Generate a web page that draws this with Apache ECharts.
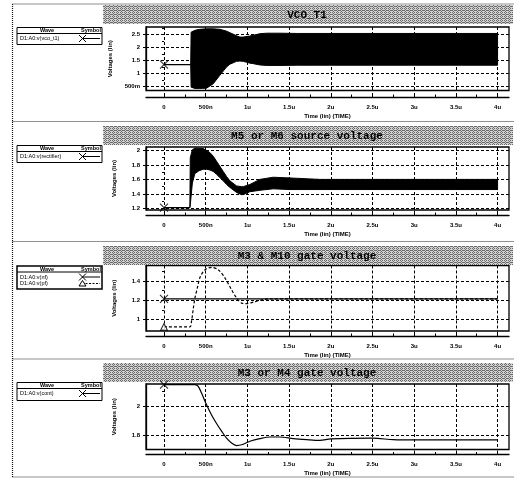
<!DOCTYPE html>
<html><head><meta charset="utf-8">
<script src="https://cdn.jsdelivr.net/npm/echarts@6/dist/echarts.min.js"></script>
<style>html,body{margin:0;padding:0;background:#fff}#c{width:516px;height:479px}</style>
</head><body><div id="c"></div><script>
// ---------- DATA ----------
const titles = ['VCO_T1', 'M5 or M6 source voltage', 'M3 & M10 gate voltage', 'M3 or M4 gate voltage'];
const xTickValues = [0, 0.5, 1, 1.5, 2, 2.5, 3, 3.5, 4];
const xTickLabels = ['0', '500n', '1u', '1.5u', '2u', '2.5u', '3u', '3.5u', '4u'];
const xMinorValues = [0.25, 0.75, 1.25, 1.75, 2.25, 2.75, 3.25, 3.75];

// Panel 1: VCO_T1
const p1YTicks = [0.5, 1, 1.5, 2, 2.5];
const p1YLabels = ['500m', '1', '1.5', '2', '2.5'];
const p1YMinor = [0.75, 1.25, 1.75, 2.25, 2.75];
const vcoFlatT = [0, 0.32];
const vcoFlatV = [1.34, 1.34];
const vcoEnvT     = [0.32, 0.325, 0.37, 0.43, 0.51, 0.59, 0.67, 0.75, 0.79, 0.87, 0.91, 0.95, 1.03, 1.07, 1.15, 1.23, 1.39, 1.6, 1.87, 2.5, 3, 3.5, 4];
const vcoUpper    = [1.34, 2.6, 2.67, 2.71, 2.73, 2.73, 2.71, 2.64, 2.58, 2.46, 2.41, 2.41, 2.45, 2.48, 2.54, 2.56, 2.56, 2.55, 2.55, 2.55, 2.55, 2.55, 2.55];
const vcoLower    = [1.34, 0.47, 0.42, 0.42, 0.43, 0.6, 0.93, 1.25, 1.36, 1.47, 1.48, 1.47, 1.4, 1.38, 1.33, 1.31, 1.31, 1.32, 1.32, 1.32, 1.32, 1.32, 1.32];

// Panel 2: rectifier
const p2YTicks = [1.2, 1.4, 1.6, 1.8, 2];
const p2YLabels = ['1.2', '1.4', '1.6', '1.8', '2'];
const p2YMinor = [1.3, 1.5, 1.7, 1.9];
const recFlatT = [0, 0.31];
const recFlatV = [1.21, 1.21];
const recEnvT   = [0.31, 0.315, 0.34, 0.37, 0.42, 0.47, 0.51, 0.55, 0.59, 0.63, 0.71, 0.75, 0.79, 0.87, 0.93, 0.95, 1.03, 1.15, 1.31, 1.51, 1.87, 2.5, 3, 3.5, 4];
const recUpper  = [1.21, 1.9, 2.01, 2.03, 2.03, 2.025, 2.0, 1.97, 1.92, 1.85, 1.71, 1.64, 1.58, 1.51, 1.5, 1.5, 1.53, 1.6, 1.63, 1.62, 1.6, 1.6, 1.6, 1.6, 1.6];
const recLower  = [1.21, 1.25, 1.55, 1.68, 1.72, 1.74, 1.74, 1.73, 1.71, 1.67, 1.58, 1.53, 1.49, 1.42, 1.39, 1.39, 1.43, 1.45, 1.47, 1.46, 1.46, 1.46, 1.46, 1.46, 1.46];

// Panel 3: v(nf), v(pf)
const p3YTicks = [1, 1.2, 1.4];
const p3YLabels = ['1', '1.2', '1.4'];
const p3YMinor = [0.9, 1.1, 1.3, 1.5];
const nfT = [0, 1, 2, 3, 4];
const nfV = [1.215, 1.215, 1.215, 1.215, 1.215];
const pfT = [0, 0.31, 0.33, 0.35, 0.37, 0.4, 0.43, 0.47, 0.51, 0.57, 0.65, 0.73, 0.81, 0.87, 0.93, 0.99, 1.07, 1.15, 1.27, 1.5, 2, 3, 4];
const pfV = [0.921, 0.921, 0.98, 1.105, 1.22, 1.33, 1.435, 1.5, 1.53, 1.545, 1.52, 1.435, 1.31, 1.225, 1.17, 1.165, 1.18, 1.2, 1.215, 1.215, 1.215, 1.215, 1.215];

// Panel 4: v(cont)
const p4YTicks = [1.8, 2];
const p4YLabels = ['1.8', '2'];
const p4YMinor = [1.7, 1.9, 2.1];
const contT = [0, 0.37, 0.41, 0.45, 0.51, 0.57, 0.63, 0.69, 0.75, 0.81, 0.87, 0.93, 1.03, 1.15, 1.27, 1.39, 1.55, 1.71, 1.87, 2.0, 2.5, 2.75, 3, 3.5, 4];
const contV = [2.145, 2.145, 2.133, 2.087, 2.007, 1.938, 1.88, 1.828, 1.78, 1.747, 1.73, 1.735, 1.759, 1.777, 1.788, 1.788, 1.777, 1.77, 1.765, 1.775, 1.78, 1.77, 1.768, 1.768, 1.768];

const legendNames = [['D1:A0:v(vco_t1)'], ['D1:A0:v(rectifier)'], ['D1:A0:v(nf)', 'D1:A0:v(pf)'], ['D1:A0:v(cont)']];

// ---------- LAYOUT ----------
const X_MIN = -0.216, X_MAX = 4.137;
const GL = 146, GW = 363;
const layout = [
  {top: 27, h: 63.5, off: 6.5, ymin: 0.34, ymax: 2.8, frame: 4, bar: [5, 19], leg: [27.5, 17], yt: p1YTicks, yl: p1YLabels, ym: p1YMinor},
  {top: 147, h: 63, off: 5, ymin: 1.178, ymax: 2.047, frame: 121.5, bar: [126, 19], leg: [145.5, 17], yt: p2YTicks, yl: p2YLabels, ym: p2YMinor},
  {top: 265.5, h: 65.5, off: 5, ymin: 0.878, ymax: 1.564, frame: 241.5, bar: [246, 19], leg: [266, 23], yt: p3YTicks, yl: p3YLabels, ym: p3YMinor},
  {top: 384, h: 65.5, off: 5, ymin: 1.703, ymax: 2.149, frame: 359, bar: [363, 19], leg: [382.5, 18], yt: p4YTicks, yl: p4YLabels, ym: p4YMinor}
];

const FONT = 'Liberation Sans';
const XSYM = 'path://M0,0L10,10M10,0L0,10';

function nearestLabel(vals, labels, v) {
  let bi = 0, bd = Infinity;
  vals.forEach((x, i) => { const d = Math.abs(x - v); if (d < bd) { bd = d; bi = i; } });
  return labels[bi];
}

function makePattern() {
  const c = document.createElement('canvas');
  c.width = 4; c.height = 4;
  const g = c.getContext('2d');
  g.fillStyle = '#d4d4d4'; g.fillRect(0, 0, 4, 4);
  g.fillStyle = '#6a6a6a';
  [[0,0],[2,0],[1,1],[3,2],[0,2],[2,2],[1,3]].forEach(p => g.fillRect(p[0], p[1], 1, 1));
  return c;
}
const pat = makePattern();

const grids = [], xAxes = [], yAxes = [], series = [], graphics = [];

layout.forEach((L, i) => {
  grids.push({left: GL, top: L.top, width: GW, height: L.h, show: true, borderColor: '#000', borderWidth: 1.3, backgroundColor: '#fff'});
  xAxes.push({
    gridIndex: i, type: 'value', min: X_MIN, max: X_MAX, position: 'bottom', offset: L.off,
    axisLine: {show: true, onZero: false, lineStyle: {color: '#000', width: 1.3}},
    axisTick: {show: true, customValues: xTickValues, inside: true, length: 4, lineStyle: {color: '#000', width: 1}},
    axisLabel: {show: true, customValues: xTickValues, formatter: v => nearestLabel(xTickValues, xTickLabels, v),
      fontSize: 6, fontWeight: 'bold', color: '#000', margin: 7, fontFamily: FONT},
    splitLine: {show: true, lineStyle: {type: [3, 2], color: '#000', width: 1}},
    name: 'Time (lin) (TIME)', nameLocation: 'middle', nameGap: 16,
    nameTextStyle: {fontSize: 6, fontWeight: 'bold', color: '#000', fontFamily: FONT}
  });
  xAxes.push({
    gridIndex: i, type: 'value', min: X_MIN, max: X_MAX, position: 'bottom', offset: L.off,
    axisLine: {show: false}, axisLabel: {show: false}, splitLine: {show: false},
    axisTick: {show: true, customValues: xMinorValues, inside: true, length: 2.5, lineStyle: {color: '#000', width: 1}}
  });
  yAxes.push({
    gridIndex: i, type: 'value', min: L.ymin, max: L.ymax, position: 'left',
    axisLine: {show: true, onZero: false, lineStyle: {color: '#000', width: 1.3}},
    axisTick: {show: true, customValues: L.yt, length: 3, lineStyle: {color: '#000', width: 1}},
    axisLabel: {show: true, customValues: L.yt, formatter: v => nearestLabel(L.yt, L.yl, v),
      fontSize: 6, fontWeight: 'bold', color: '#000', margin: 6, fontFamily: FONT},
    splitLine: {show: true, lineStyle: {type: [3, 2], color: '#000', width: 1}},
    name: 'Voltages (lin)', nameLocation: 'middle', nameGap: 29, nameRotate: 90,
    nameTextStyle: {fontSize: 6, fontWeight: 'bold', color: '#000', fontFamily: FONT}
  });
  yAxes.push({
    gridIndex: i, type: 'value', min: L.ymin, max: L.ymax, position: 'left',
    axisLine: {show: false}, axisLabel: {show: false}, splitLine: {show: false},
    axisTick: {show: true, customValues: L.ym, length: 2, lineStyle: {color: '#000', width: 1}}
  });

  // frame lines & title bar
  graphics.push({type: 'line', shape: {x1: 12.5, y1: L.frame, x2: 514, y2: L.frame}, style: {stroke: '#222', lineWidth: 1, lineDash: [1, 1]}, silent: true});
  graphics.push({type: 'rect', shape: {x: 103, y: L.bar[0], width: 410, height: L.bar[1]}, style: {fill: {image: pat, repeat: 'repeat'}}, silent: true});
  graphics.push({type: 'text', x: 307, y: L.bar[0] + L.bar[1] / 2 + 1,
    style: {text: titles[i], font: 'bold 11px "Liberation Mono"', fill: '#000', textAlign: 'center', textVerticalAlign: 'middle'}, silent: true});

  // legend box
  const lx = 17, ly = L.leg[0], lw = 85, lh = L.leg[1];
  const el = [];
  el.push({type: 'rect', shape: {x: lx, y: ly, width: lw, height: lh}, style: {fill: '#fff', stroke: '#000', lineWidth: i === 2 ? 1.5 : 1}});
  el.push({type: 'text', x: 47, y: ly + 3, style: {text: 'Wave', font: 'bold 5.5px "Liberation Sans"', fill: '#000', textAlign: 'center', textVerticalAlign: 'middle'}});
  el.push({type: 'text', x: 91, y: ly + 3, style: {text: 'Symbol', font: 'bold 5.5px "Liberation Sans"', fill: '#000', textAlign: 'center', textVerticalAlign: 'middle'}});
  el.push({type: 'line', shape: {x1: lx, y1: ly + 6, x2: lx + lw, y2: ly + 6}, style: {stroke: '#000', lineWidth: 1}});
  legendNames[i].forEach((nm, k) => {
    const ry = ly + 11 + k * 6.5;
    el.push({type: 'text', x: 20, y: ry, style: {text: nm, font: '5.5px "Liberation Sans"', fill: '#000', textAlign: 'left', textVerticalAlign: 'middle'}});
    el.push({type: 'line', shape: {x1: 82, y1: ry, x2: 100, y2: ry}, style: {stroke: '#000', lineWidth: 1, lineDash: k === 1 ? [2, 1.5] : null}});
    if (k === 0) {
      el.push({type: 'polyline', shape: {points: [[79, ry - 3.5], [86, ry + 3.5]]}, style: {stroke: '#000', lineWidth: 1, fill: null}});
      el.push({type: 'polyline', shape: {points: [[86, ry - 3.5], [79, ry + 3.5]]}, style: {stroke: '#000', lineWidth: 1, fill: null}});
    } else {
      el.push({type: 'polygon', shape: {points: [[82.5, ry - 3], [79, ry + 2.5], [86, ry + 2.5]]}, style: {stroke: '#000', lineWidth: 1, fill: '#fff'}});
    }
  });
  graphics.push({type: 'group', children: el, silent: true});
});
graphics.push({type: 'line', shape: {x1: 12.5, y1: 4, x2: 12.5, y2: 477}, style: {stroke: '#111', lineWidth: 1.2, lineDash: [1, 1]}, silent: true});
graphics.push({type: 'line', shape: {x1: 12.5, y1: 477, x2: 514, y2: 477}, style: {stroke: '#222', lineWidth: 1, lineDash: [1, 1]}, silent: true});

function pairs(t, v) { return t.map((x, k) => [x, v[k]]); }
function lineS(i, t, v, dashed) {
  return {type: 'line', xAxisIndex: 2 * i, yAxisIndex: 2 * i, data: pairs(t, v), symbol: 'none', smooth: 0.3,
    lineStyle: {color: '#000', width: 1.2, type: dashed ? [3, 2] : 'solid'}, z: 3, silent: true, animation: false};
}
// oscillation envelope band: polygon through upper envelope then lower envelope reversed
function bandS(i, t, lo, hi) {
  return {
    type: 'custom', coordinateSystem: 'cartesian2d', xAxisIndex: 2 * i, yAxisIndex: 2 * i,
    data: [[t[0], lo[0]]], z: 3, silent: true, animation: false, clip: true,
    renderItem: function (params, api) {
      const pts = [];
      for (let k = 0; k < t.length; k++) pts.push(api.coord([t[k], hi[k]]));
      for (let k = t.length - 1; k >= 0; k--) pts.push(api.coord([t[k], lo[k]]));
      return {type: 'polygon', shape: {points: pts}, style: {fill: '#000', stroke: '#000', lineWidth: 1}};
    }
  };
}
function markS(i, x, y, sym) {
  return {type: 'scatter', xAxisIndex: 2 * i, yAxisIndex: 2 * i, data: [[x, y]], symbol: sym === 'x' ? XSYM : 'triangle',
    symbolSize: sym === 'x' ? 8 : 7, itemStyle: {color: sym === 'x' ? 'transparent' : '#fff', borderColor: '#000', borderWidth: 1.1},
    z: 5, silent: true, animation: false};
}

series.push(lineS(0, vcoFlatT, vcoFlatV, false));
series.push(bandS(0, vcoEnvT, vcoLower, vcoUpper));
series.push(markS(0, vcoFlatT[0], vcoFlatV[0], 'x'));

series.push(lineS(1, recFlatT, recFlatV, false));
series.push(bandS(1, recEnvT, recLower, recUpper));
series.push(markS(1, recFlatT[0], recFlatV[0], 'x'));

series.push(lineS(2, nfT, nfV, false));
series.push(lineS(2, pfT, pfV, true));
series.push(markS(2, nfT[0], nfV[0], 'x'));
series.push(markS(2, pfT[0], pfV[0], 'tri'));

series.push(lineS(3, contT, contV, false));
series.push(markS(3, contT[0], contV[0], 'x'));

const chart = echarts.init(document.getElementById('c'), null, {renderer: 'canvas'});
chart.setOption({
  animation: false,
  backgroundColor: '#fff',
  grid: grids, xAxis: xAxes, yAxis: yAxes, series: series, graphic: graphics
});
</script></body></html>
